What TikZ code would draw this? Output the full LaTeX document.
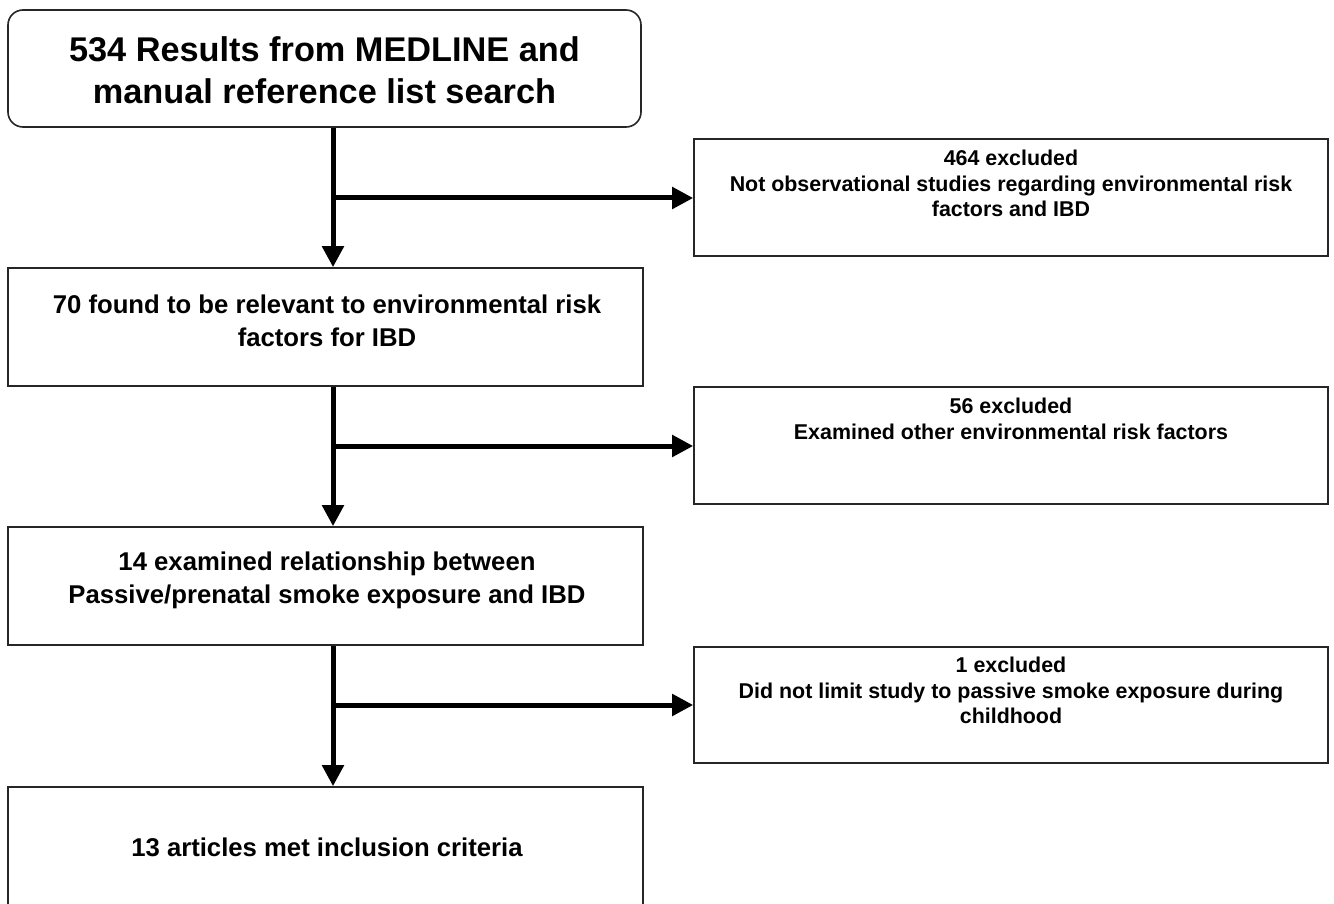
\documentclass[tikz,border=0pt]{standalone}
\usepackage{fontspec}
\setmainfont{Liberation Sans}
\usetikzlibrary{arrows.meta,calc}
\begin{document}
\begin{tikzpicture}[x=1pt,y=-1pt,
  box/.style={draw=black!85,line width=1.6pt,rectangle,inner sep=0pt},
  leftbox/.style={box,minimum width=635pt,minimum height=118pt},
  rightbox/.style={box,minimum width=634pt,minimum height=117pt},
  toptext/.style={font=\fontsize{34.3}{42}\selectfont\bfseries,align=center,inner sep=0pt},
  lefttext/.style={font=\fontsize{25.7}{33}\selectfont\bfseries,align=center,inner sep=0pt},
  righttext/.style={font=\fontsize{21.4}{25.5}\selectfont\bfseries,align=center,inner sep=0pt,anchor=north},
  flow/.style={line width=5pt,-{Triangle[length=21pt,width=21pt]}},
  branch/.style={line width=5pt}
]
\useasboundingbox (0,0) rectangle (1334,904);
% top box
\node[box,rounded corners=15pt,minimum width=633pt,minimum height=117pt] (b1) at (324.5,68.5) {};
\node[toptext] (t1) at (324.5,70) {534 Results from MEDLINE and\\manual reference list search};
% left boxes
\node[leftbox] (b2) at (325.5,327) {};
\node[lefttext] (t2) at (327,321) {70 found to be relevant to environmental risk\\factors for IBD};
\node[leftbox] (b3) at (325.5,586) {};
\node[lefttext] (t3) at (327,580) {14 examined relationship between\\Passive/prenatal smoke exposure and IBD};
\node[box,minimum width=635pt,minimum height=122pt] (b4) at (325.5,848) {};
\node[lefttext] (t4) at (327,847) {13 articles met inclusion criteria};
% right boxes
\node[rightbox] (r1) at (1011,197.5) {};
\node[righttext] (s1) at (1011,150) {464 excluded\\Not observational studies regarding environmental risk\\factors and IBD};
\node[rightbox] (r2) at (1011,445.5) {};
\node[righttext] (s2) at (1011,398) {56 excluded\\Examined other environmental risk factors};
\node[rightbox,minimum height=116pt] (r3) at (1011,705) {};
\node[righttext] (s3) at (1011,657) {1 excluded\\Did not limit study to passive smoke exposure during\\childhood};
% spine coordinates
\coordinate (x) at (333,0);
\coordinate (j1) at (333,198);
\coordinate (j2) at (333,446);
\coordinate (j3) at (333,705);
% vertical arrows
\draw[flow] (b1.south -| x) -- (b2.north -| x);
\draw[flow] (b2.south -| x) -- (b3.north -| x);
\draw[flow] (b3.south -| x) -- (b4.north -| x);
% branches
\draw[flow] (j1) -- (r1.west |- j1);
\draw[flow] (j2) -- (r2.west |- j2);
\draw[flow] (j3) -- (r3.west |- j3);
\end{tikzpicture}
\end{document}
